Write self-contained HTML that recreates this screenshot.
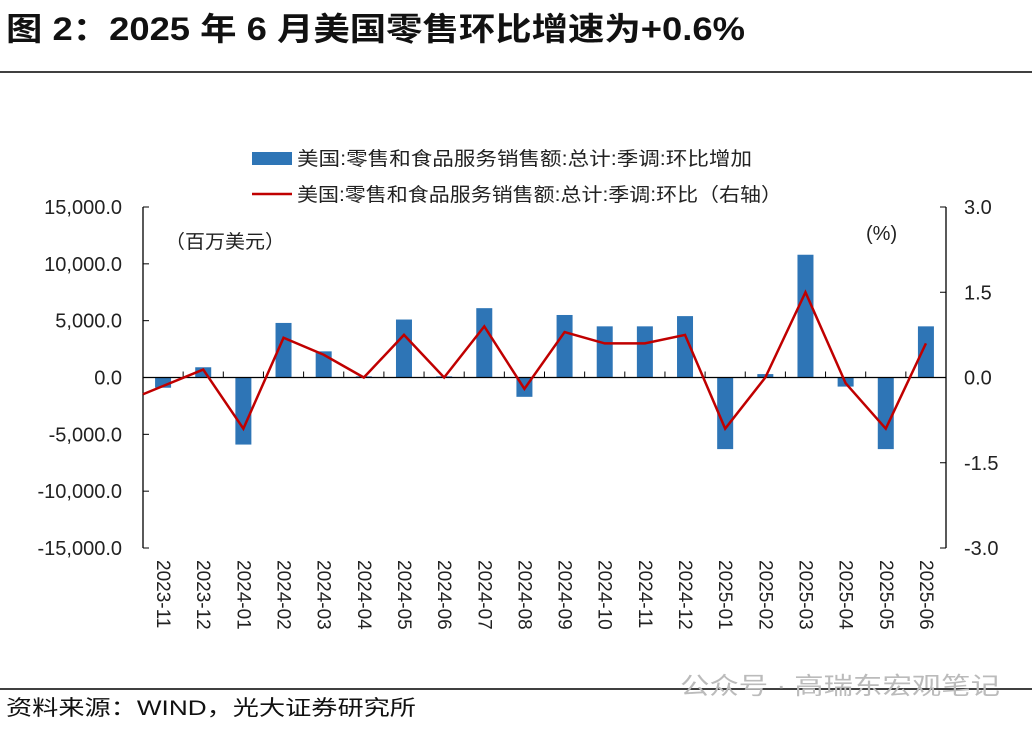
<!DOCTYPE html>
<html><head><meta charset="utf-8">
<style>
body{margin:0;background:#fff;width:1032px;height:727px;overflow:hidden;font-family:"Liberation Sans","Noto Sans CJK SC",sans-serif;}
svg text{font-family:"Liberation Sans","Noto Sans CJK SC",sans-serif;}
</style></head><body>
<svg width="1032" height="727" viewBox="0 0 1032 727">
<text x="6" y="40" font-size="32" font-weight="bold" fill="#111" textLength="739" lengthAdjust="spacingAndGlyphs">图 2：2025 年 6 月美国零售环比增速为+0.6%</text>
<line x1="0" y1="72" x2="1032" y2="72" stroke="#000" stroke-width="1.5"/>
<g>
<rect x="252" y="152" width="40" height="13" fill="#2e75b6"/>
<text x="297" y="165" font-size="19" fill="#222" textLength="455" lengthAdjust="spacingAndGlyphs">美国:零售和食品服务销售额:总计:季调:环比增加</text>
<line x1="252" y1="194" x2="292" y2="194" stroke="#c00000" stroke-width="2.5"/>
<text x="297" y="201" font-size="19" fill="#222" textLength="485" lengthAdjust="spacingAndGlyphs">美国:零售和食品服务销售额:总计:季调:环比（右轴）</text>
</g>
<text x="165" y="248" font-size="19" fill="#222" textLength="120" lengthAdjust="spacingAndGlyphs">（百万美元）</text>
<text x="866" y="240" font-size="20" fill="#222">(%)</text>
<g id="plot"></g>
<line x1="0" y1="689" x2="1032" y2="689" stroke="#000" stroke-width="1.5"/>
<text x="680" y="694" font-size="24" fill="#bbb" textLength="320" lengthAdjust="spacingAndGlyphs">公众号 · 高瑞东宏观笔记</text>
<text x="6" y="715" font-size="21" fill="#111" textLength="410" lengthAdjust="spacingAndGlyphs">资料来源：WIND，光大证券研究所</text>
</svg>
<script>
const categories=["2023-11","2023-12","2024-01","2024-02","2024-03","2024-04","2024-05","2024-06","2024-07","2024-08","2024-09","2024-10","2024-11","2024-12","2025-01","2025-02","2025-03","2025-04","2025-05","2025-06"];
const barValues=[-900,900,-5900,4800,2300,100,5100,100,6100,-1700,5500,4500,4500,5400,-6300,300,10800,-800,-6300,4500];
const lineValues=[-0.15,0.14,-0.9,0.7,0.4,0.0,0.75,0.0,0.9,-0.2,0.8,0.6,0.6,0.75,-0.9,0.0,1.5,-0.1,-0.9,0.6];
const leftTicks=[15000,10000,5000,0,-5000,-10000,-15000];
const leftTickLabels=["15,000.0","10,000.0","5,000.0","0.0","-5,000.0","-10,000.0","-15,000.0"];
const rightTicks=[3,1.5,0,-1.5,-3];
const rightTickLabels=["3.0","1.5","0.0","-1.5","-3.0"];
const NS="http://www.w3.org/2000/svg";
const g=document.getElementById('plot');
const X0=143,X1=946,YT=207,YB=548;
const band=(X1-X0)/categories.length;
const xc=i=>X0+band*(i+0.5);
const yL=v=>YB-(v+15000)/30000*(YB-YT);
const yR=v=>YB-(v+3)/6*(YB-YT);
function mk(t,a){const e=document.createElementNS(NS,t);for(const k in a)e.setAttribute(k,a[k]);g.appendChild(e);return e;}
let e=mk('line',{x1:X0,y1:YT,x2:X0,y2:YB,stroke:'#000','stroke-width':1.3});


e=mk('line',{x1:X1,y1:YT,x2:X1,y2:YB,stroke:'#000','stroke-width':1.3});


leftTicks.forEach((v,i)=>{
 let t=mk('line',{x1:X0,y1:yL(v),x2:X0+6,y2:yL(v),stroke:'#000'});
 
 
 let l=mk('text',{x:122,y:yL(v)+7,'text-anchor':'end','font-size':20,fill:'#222'});
 l.textContent=leftTickLabels[i];
 
 
});
rightTicks.forEach((v,i)=>{
 let t=mk('line',{x1:X1-6,y1:yR(v),x2:X1,y2:yR(v),stroke:'#000'});
 
 
 let l=mk('text',{x:964,y:yR(v)+7,'font-size':20,fill:'#222'});
 l.textContent=rightTickLabels[i];
 
 
});
barValues.forEach((v,i)=>{
 const y0=yL(0),y1=yL(v);
 let r=mk('rect',{x:xc(i)-8,y:Math.min(y0,y1),width:16,height:Math.max(Math.abs(y1-y0),0.5),fill:'#2e75b6'});
 
 
});
e=mk('line',{x1:X0,y1:yL(0),x2:X1,y2:yL(0),stroke:'#000','stroke-width':1.3});


for(let i=1;i<categories.length;i++){
 let t=mk('line',{x1:X0+band*i,y1:yL(0),x2:X0+band*i,y2:yL(0)-6,stroke:'#000'});
 
 
}
const pts=lineValues.map((v,i)=>[xc(i),yR(v)]);
const sx=X0,sy=pts[0][1]-(pts[1][1]-pts[0][1])*(pts[0][0]-X0)/band;
let d='M'+sx+','+sy+' '+pts.map(p=>'L'+p[0]+','+p[1]).join(' ');
let p=mk('path',{d:d,fill:'none',stroke:'#c00000','stroke-width':2.5,'stroke-linejoin':'miter'});


categories.forEach((c,i)=>{
 let t=mk('text',{x:0,y:0,'font-size':19,fill:'#222',transform:`translate(${xc(i)-6},560) rotate(90)`});
 t.textContent=c;
 
 
});
</script>
</body></html>
